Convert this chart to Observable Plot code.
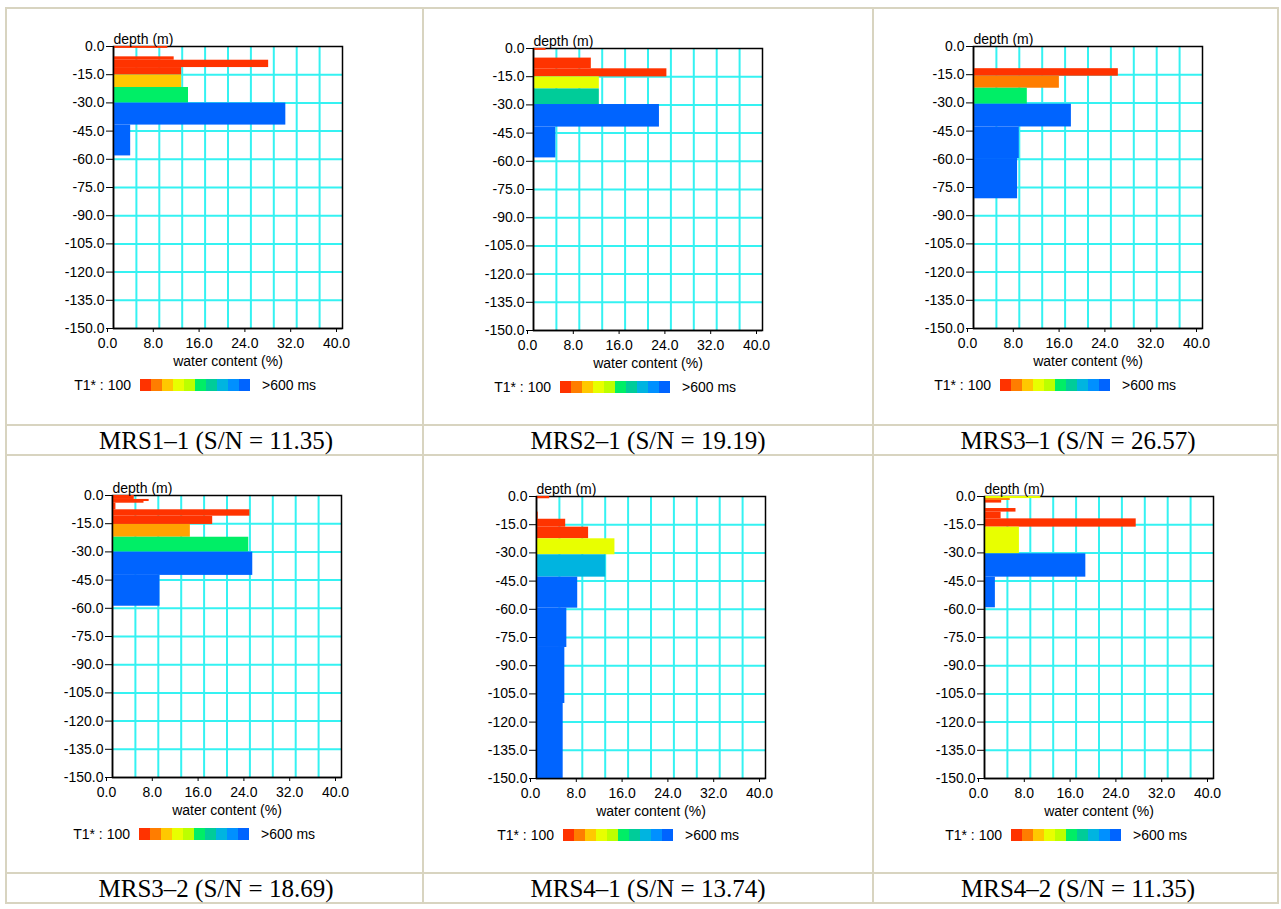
<!DOCTYPE html>
<html>
<head>
<meta charset="utf-8">
<script src="https://cdn.jsdelivr.net/npm/d3@7"></script>
<script src="https://cdn.jsdelivr.net/npm/@observablehq/plot@0.6"></script>
<style>
  html, body { margin: 0; padding: 0; background: #fff; }
  #page { position: relative; width: 1281px; height: 909px; overflow: hidden; background: #fff; }
  .rule { position: absolute; background: #d8d4c0; }
  .cap { position: absolute; font-family: "Liberation Serif", "Times New Roman", serif; font-size: 25px;
         color: #000; white-space: nowrap; transform: translate(-50%, -50%); }
  .panel { position: absolute; }
  .legend { position: absolute; display: flex; align-items: center; height: 14px;
            font-family: "Liberation Sans", Arial, sans-serif; font-size: 14px; color: #000; }
  .legend .lo { width: 66px; text-align: right; margin-right: 7px; white-space: nowrap; }
  .legend .hi { margin-left: 10px; white-space: nowrap; }
  .legend svg { display: block; }
</style>
</head>
<body>
<div id="page"></div>
<script>
// Sounding names and their signal-to-noise ratios
const SITES = ["MRS1–1", "MRS2–1", "MRS3–1", "MRS3–2", "MRS4–1", "MRS4–2"];
const SIGNAL_NOISE = ["11.35", "19.19", "26.57", "18.69", "13.74", "11.35"];

// T1* decay-time classes, 100 ms (0) to >600 ms (9)
const T1_COLORS = ["#ff3300", "#ff7d00", "#ffc800", "#e8ff00", "#bcff00",
                   "#00ee66", "#00cc99", "#00b4e0", "#0090ff", "#0064ff"];
const T1_CLASSES = d3.range(10);

// Axis ticks
const DEPTH_TICKS = d3.range(-150, 1, 15);
const WATER_TICKS = [0, 8, 16, 24, 32, 40];

// Inverted layers: top depth (m), bottom depth (m), water content (%), T1* class
const mrs11Top    = [0,   5.5,  7.3,  11.2, 15.2, 21.8, 30.1, 41.8];
const mrs11Bottom = [1.0, 7.3,  11.2, 15.2, 21.8, 30.1, 41.8, 58.2];
const mrs11Water  = [9.5, 10.6, 27.1, 11.9, 11.9, 13.1, 30.1, 3.0];
const mrs11T1     = [0,   0,    0,    0,    2,    5,    9,    9];

const mrs21Top    = [0,   5.1,  10.8, 15.1, 21.5, 29.8, 41.8];
const mrs21Bottom = [1.0, 10.8, 15.1, 21.5, 29.8, 41.8, 58.2];
const mrs21Water  = [2.2, 10.1, 23.3, 11.5, 11.5, 22.0, 3.9];
const mrs21T1     = [0,   0,    0,    3,    6,    9,    9];

const mrs31Top    = [11.8, 15.8, 22.2, 30.7, 42.8, 59.6];
const mrs31Bottom = [15.8, 22.2, 30.7, 42.8, 59.6, 81.0];
const mrs31Water  = [25.3, 15.0, 9.4,  17.1, 8.0,  7.7];
const mrs31T1     = [0,    1,    5,    9,    9,    9];

const mrs32Top    = [0,   2.1, 3.2, 4.1, 7.6,  11.0, 15.4, 22.2, 30.1, 42.5];
const mrs32Bottom = [2.1, 3.2, 4.1, 7.6, 11.0, 15.4, 22.2, 30.1, 42.5, 58.9];
const mrs32Water  = [3.8, 6.4, 5.5, 0.6, 24.0, 17.5, 13.6, 23.8, 24.5, 8.3];
const mrs32T1     = [0,   0,   0,   0,   0,    0,    1.5,  5,    9,    9];

const mrs41Top    = [0,   8.3,  12.1, 16.3, 22.5, 31.0, 42.9, 59.4, 80.3, 110.1];
const mrs41Bottom = [1.2, 12.1, 16.3, 22.5, 31.0, 42.9, 59.4, 80.3, 110.1, 150];
const mrs41Water  = [2.3, 0.3,  5.1,  9.1,  13.7, 12.1, 7.2,  5.3,  4.95, 4.66];
const mrs41T1     = [0,   0,    0,    0,    3,    7,    9,    9,    9,    9];

const mrs42Top    = [0,   1.1, 2.1, 6.4, 8.3,  11.9, 16.3, 30.5, 42.9];
const mrs42Bottom = [1.1, 2.1, 3.5, 8.3, 11.9, 16.3, 30.5, 42.9, 59.2];
const mrs42Water  = [9.9, 4.5, 3.0, 5.5, 2.9,  26.5, 6.1,  17.7, 1.9];
const mrs42T1     = [3,   1,   0,   0,   0,    0,    3,    9,    9];

function layers(top, bottom, water, t1) {
  return top.map((t, i) => ({top: t, bottom: bottom[i], water: water[i], t1: t1[i]}));
}

const SOUNDINGS = [
  layers(mrs11Top, mrs11Bottom, mrs11Water, mrs11T1),
  layers(mrs21Top, mrs21Bottom, mrs21Water, mrs21T1),
  layers(mrs31Top, mrs31Bottom, mrs31Water, mrs31T1),
  layers(mrs32Top, mrs32Bottom, mrs32Water, mrs32T1),
  layers(mrs41Top, mrs41Bottom, mrs41Water, mrs41T1),
  layers(mrs42Top, mrs42Bottom, mrs42Water, mrs42T1)
];

// Page layout: plot-frame corners and caption centres
const FRAME_LEFT = [113, 533, 973, 112, 536, 984];
const FRAME_TOP  = [46, 48, 46, 495, 496, 496];
const CAPTION_X  = [216, 648, 1078, 216, 648, 1078];
const CAPTION_Y  = [441, 441, 441, 889, 889, 889];
const RULES_X = [5, 422, 872, 1277];
const RULES_Y = [7, 424, 454, 872, 902];

const M = {left: 52, right: 16, top: 24, bottom: 46};
const FW = 229, FH = 282;
const FONT = "'Liberation Sans', Arial, sans-serif";
const colorScale = {type: "linear", domain: T1_CLASSES, range: T1_COLORS};
const fmt = d => d.toFixed(1);
const CYAN = "#35f2f2";

function sounding(rows) {
  return Plot.plot({
    width: M.left + FW + M.right,
    height: M.top + FH + M.bottom,
    marginLeft: M.left, marginRight: M.right, marginTop: M.top, marginBottom: M.bottom,
    style: {fontFamily: FONT, fontSize: "14px", color: "#000", background: "transparent", overflow: "visible"},
    x: {domain: [0, 40]},
    y: {domain: [-150, 0]},
    color: colorScale,
    marks: [
      Plot.gridX(d3.range(4, 40, 4), {stroke: CYAN, strokeOpacity: 1, strokeWidth: 2}),
      Plot.gridY(d3.range(-135, 0, 15), {stroke: CYAN, strokeOpacity: 1, strokeWidth: 2}),
      Plot.frame({stroke: "#000", strokeWidth: 1.5}),
      // layers sit over the frame; the left and bottom axis lines are redrawn above them
      Plot.rect(rows, {x1: () => 0, x2: "water", y1: d => -d.top, y2: d => -d.bottom, fill: "t1"}),
      Plot.ruleX([0], {stroke: "#000", strokeWidth: 1.5}),
      Plot.ruleY([-150], {stroke: "#000", strokeWidth: 1.5}),
      Plot.axisY(DEPTH_TICKS, {anchor: "left", tickFormat: fmt, tickSize: 7, tickPadding: 2, label: null}),
      Plot.axisX(WATER_TICKS, {anchor: "bottom", tickFormat: fmt, tickSize: 4, tickPadding: 6, dx: -6, label: null}),
      Plot.text(["depth (m)"], {frameAnchor: "top-left", textAnchor: "start", lineAnchor: "bottom", dy: -3}),
      Plot.text(["water content (%)"], {frameAnchor: "bottom", lineAnchor: "middle", dy: 33})
    ]
  });
}

function t1Bar() {
  return Plot.plot({
    width: 114, height: 12, margin: 0,
    x: {type: "band", domain: T1_CLASSES, padding: 0, axis: null},
    color: colorScale,
    marks: [Plot.cell(T1_CLASSES, {x: d => d, fill: d => d, inset: 0})]
  });
}

const page = document.getElementById("page");

RULES_X.forEach(x => {
  const d = document.createElement("div");
  d.className = "rule";
  Object.assign(d.style, {left: x + "px", top: RULES_Y[0] + "px", width: "2px",
    height: (RULES_Y[RULES_Y.length - 1] - RULES_Y[0] + 2) + "px"});
  page.appendChild(d);
});
RULES_Y.forEach(y => {
  const d = document.createElement("div");
  d.className = "rule";
  Object.assign(d.style, {left: RULES_X[0] + "px", top: y + "px", height: "2px",
    width: (RULES_X[RULES_X.length - 1] - RULES_X[0] + 2) + "px"});
  page.appendChild(d);
});

SOUNDINGS.forEach((rows, i) => {
  const wrap = document.createElement("div");
  wrap.className = "panel";
  wrap.style.left = (FRAME_LEFT[i] - M.left) + "px";
  wrap.style.top = (FRAME_TOP[i] - M.top) + "px";
  wrap.appendChild(sounding(rows));
  page.appendChild(wrap);

  const leg = document.createElement("div");
  leg.className = "legend";
  leg.style.left = (FRAME_LEFT[i] + 25 - 73) + "px";
  leg.style.top = (FRAME_TOP[i] + 332) + "px";
  const lo = document.createElement("span");
  lo.className = "lo";
  lo.textContent = "T1* : 100";
  const hi = document.createElement("span");
  hi.className = "hi";
  hi.textContent = ">600 ms";
  leg.appendChild(lo);
  leg.appendChild(t1Bar());
  leg.appendChild(hi);
  page.appendChild(leg);

  const cap = document.createElement("div");
  cap.className = "cap";
  cap.style.left = CAPTION_X[i] + "px";
  cap.style.top = CAPTION_Y[i] + "px";
  cap.textContent = `${SITES[i]} (S/N = ${SIGNAL_NOISE[i]})`;
  page.appendChild(cap);
});
</script>
</body>
</html>
